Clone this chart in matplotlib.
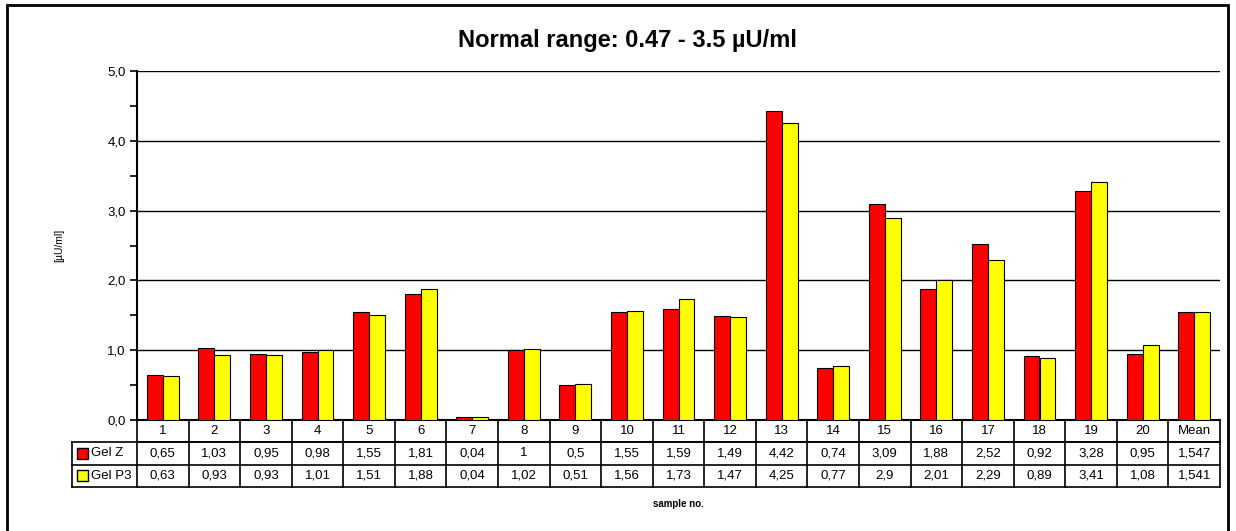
import numpy as np
import matplotlib.pyplot as plt
from matplotlib.transforms import blended_transform_factory
from matplotlib.patches import Rectangle

plt.rcParams['font.family'] = ['Liberation Sans', 'DejaVu Sans']

samples = [str(i) for i in range(1, 21)] + ['Mean']
gel_z = [0.65, 1.03, 0.95, 0.98, 1.55, 1.81, 0.04, 1, 0.5, 1.55, 1.59, 1.49,
         4.42, 0.74, 3.09, 1.88, 2.52, 0.92, 3.28, 0.95, 1.547]
gel_p3 = [0.63, 0.93, 0.93, 1.01, 1.51, 1.88, 0.04, 1.02, 0.51, 1.56, 1.73, 1.47,
          4.25, 0.77, 2.9, 2.01, 2.29, 0.89, 3.41, 1.08, 1.541]
series_names = ['Gel Z', 'Gel P3']
colors = ['#ff0000', '#ffff00']

W, H = 1236, 531
fig = plt.figure(figsize=(W / 100, H / 100), dpi=100)
ax = fig.add_axes([137 / W, 1 - 420 / H, (1220 - 137) / W, (420 - 71) / H])

x = np.arange(len(samples))
bw = 0.31
ax.bar(x - bw / 2, gel_z, bw, color=colors[0], edgecolor='black', linewidth=0.8, zorder=3)
ax.bar(x + bw / 2, gel_p3, bw, color=colors[1], edgecolor='black', linewidth=0.8, zorder=3)

ax.set_xlim(-0.5, len(samples) - 0.5)
ax.set_ylim(0, 5)
ax.set_yticks(np.arange(0, 5.01, 1))
ax.set_yticks(np.arange(0.5, 5, 1), minor=True)
ax.set_yticklabels([f"{v:.1f}".replace('.', ',') for v in np.arange(0, 5.01, 1)], fontsize=9.5)
ax.tick_params(axis='y', which='both', direction='out', length=5, width=1.2, pad=3)
ax.set_xticks([])
ax.grid(axis='y', color='black', linewidth=1)
ax.set_axisbelow(True)
for s in ['top', 'right']:
    ax.spines[s].set_visible(False)
ax.spines['left'].set_linewidth(1.5)
ax.spines['bottom'].set_linewidth(1.5)

ax.set_ylabel('[µU/ml]', fontsize=7.5)
ax.yaxis.set_label_coords(-73 / 1083, 0.5)
fig.text(627 / W, 1 - 41 / H, 'Normal range: 0.47 - 3.5 µU/ml', fontsize=17,
         fontweight='bold', ha='center', va='center')

# data table below the axis
tr = blended_transform_factory(ax.transData, ax.transAxes)
rh = 22.3 / 349
lab_left = -0.5 - 65 / 51.57
n = len(samples)
lw = 1.2
ax.plot([-0.5, n - 0.5], [-rh, -rh], color='black', lw=lw, transform=tr, clip_on=False)
ax.plot([lab_left, n - 0.5], [-rh, -rh], color='black', lw=lw, transform=tr, clip_on=False)
ax.plot([lab_left, n - 0.5], [-2 * rh, -2 * rh], color='black', lw=lw, transform=tr, clip_on=False)
ax.plot([lab_left, n - 0.5], [-3 * rh, -3 * rh], color='black', lw=lw, transform=tr, clip_on=False)
for i in range(n + 1):
    ax.plot([i - 0.5, i - 0.5], [0, -3 * rh], color='black', lw=lw, transform=tr, clip_on=False)
ax.plot([lab_left, lab_left], [-rh, -3 * rh], color='black', lw=lw, transform=tr, clip_on=False)

def fmt(v):
    return f"{v:g}".replace('.', ',')

fs = 9.5
for i, lab in enumerate(samples):
    ax.text(i, -0.5 * rh, lab, ha='center', va='center', fontsize=fs, transform=tr)
    ax.text(i, -1.5 * rh, fmt(gel_z[i]), ha='center', va='center', fontsize=fs, transform=tr)
    ax.text(i, -2.5 * rh, fmt(gel_p3[i]), ha='center', va='center', fontsize=fs, transform=tr)

sq_w = 11 / 51.57
sq_h = 11 / 349
for r, (name, c) in enumerate(zip(series_names, colors)):
    yc = -(1.5 + r) * rh
    ax.add_patch(Rectangle((lab_left + 5 / 51.57, yc - sq_h / 2), sq_w, sq_h,
                           facecolor=c, edgecolor='black', lw=1, transform=tr, clip_on=False))
    ax.text(lab_left + 19 / 51.57, yc, name, ha='left', va='center', fontsize=fs, transform=tr)

ax.text(0.5, -3 * rh - 17 / 349, 'sample no.', ha='center', va='center', fontsize=7,
        fontweight='bold', transform=ax.transAxes)

# outer frame (bottom edge falls outside the image)
fig.patches.append(Rectangle((7 / W, -0.05), (1228 - 7) / W, 1 - 5 / H + 0.05,
                             transform=fig.transFigure, fill=False, edgecolor='black', lw=2))

fig.savefig('out.png', dpi=100)
